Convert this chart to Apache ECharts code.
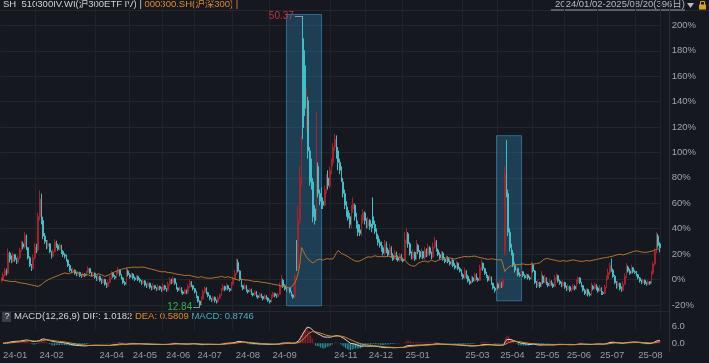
<!DOCTYPE html>
<html><head><meta charset="utf-8">
<script src="https://cdn.jsdelivr.net/npm/echarts@6/dist/echarts.min.js"></script>
<style>html,body{margin:0;padding:0;background:#15181e;}#c{width:709px;height:363px;}</style>
</head><body><div id="c"></div>
<script>
// IV bars: [open, close, high, low]
const ivBars = [
[16.2,16.4,16.7,16.0],[16.4,17.0,17.3,16.2],[17.0,17.5,17.9,16.8],[17.5,17.2,17.8,16.9],[17.2,19.8,20.4,17.1],[19.8,19.0,20.0,18.6],[19.0,18.7,19.5,18.5],[18.7,19.6,19.9,18.6],[19.6,19.0,19.7,18.7],[19.0,18.6,19.2,18.4],
[18.6,19.2,19.5,18.5],[19.2,20.2,20.5,19.0],[20.2,21.0,21.4,20.0],[21.0,20.6,21.3,20.3],[20.6,22.0,22.5,20.4],[22.0,20.5,22.2,20.2],[20.5,19.2,20.6,19.0],[19.2,18.2,19.4,18.0],[18.2,17.8,18.4,17.5],[17.8,19.2,19.6,17.7],
[19.2,20.6,21.1,19.0],[20.6,20.2,21.0,19.8],[20.2,24.5,25.0,20.0],[24.5,26.8,27.9,24.0],[26.8,24.0,27.5,23.5],[24.0,22.0,24.5,21.6],[22.0,21.3,22.4,21.0],[21.3,20.7,21.5,20.3],[20.7,21.0,21.5,20.4],[21.0,20.0,21.1,19.8],
[20.0,19.4,20.1,19.1],[19.4,20.0,20.3,19.3],[20.0,21.2,21.6,19.9],[21.2,20.8,21.4,20.5],[20.8,20.3,21.0,20.1],[20.3,20.8,21.1,20.1],[20.8,20.0,20.9,19.7],[20.0,19.6,20.2,19.3],[19.6,19.4,19.8,19.1],[19.4,18.9,19.6,18.7],
[18.9,18.2,19.0,18.0],[18.2,17.6,18.4,17.4],[17.6,17.4,17.8,17.2],[17.4,17.6,17.9,17.2],[17.6,17.2,17.7,17.0],[17.2,17.0,17.4,16.8],[17.0,17.3,17.5,16.9],[17.3,16.9,17.4,16.7],[16.9,16.8,17.1,16.6],[16.8,17.1,17.3,16.7],
[17.1,16.9,17.2,16.7],[16.9,17.3,17.5,16.8],[17.3,17.8,18.1,17.2],[17.8,17.3,17.9,17.1],[17.3,17.0,17.4,16.8],[17.0,17.2,17.4,16.8],[17.2,16.7,17.3,16.5],[16.7,16.4,16.9,16.2],[16.4,16.8,17.1,16.3],[16.8,16.3,16.9,16.1],
[16.3,16.0,16.5,15.8],[16.0,16.4,16.7,15.9],[16.4,15.8,16.5,15.6],[15.8,15.5,16.0,15.3],[15.5,16.0,16.3,15.4],[16.0,16.6,16.9,15.9],[16.6,17.2,17.5,16.4],[17.2,16.8,17.3,16.6],[16.8,16.6,17.0,16.4],[16.6,17.2,17.5,16.5],
[17.2,17.6,18.0,17.0],[17.6,17.0,17.7,16.8],[17.0,16.6,17.1,16.4],[16.6,16.0,16.7,15.8],[16.0,15.8,16.2,15.6],[15.8,17.5,18.0,15.7],[17.5,17.0,17.7,16.8],[17.0,16.7,17.2,16.5],[16.7,17.1,17.3,16.6],[17.1,16.6,17.2,16.4],
[16.6,16.4,16.8,16.2],[16.4,16.8,17.0,16.3],[16.8,16.4,16.9,16.2],[16.4,16.2,16.6,16.0],[16.2,15.9,16.3,15.7],[15.9,16.2,16.4,15.8],[16.2,15.7,16.3,15.5],[15.7,15.5,15.9,15.3],[15.5,15.9,16.1,15.4],[15.9,15.4,16.0,15.2],
[15.4,15.2,15.6,15.0],[15.2,15.6,15.9,15.1],[15.6,15.3,15.7,15.1],[15.3,15.1,15.4,14.9],[15.1,15.5,15.8,15.0],[15.5,15.2,15.6,15.0],[15.2,15.0,15.4,14.8],[15.0,15.6,15.9,14.9],[15.6,15.2,15.7,15.0],[15.2,15.0,15.3,14.8],
[15.0,15.8,16.1,14.9],[15.8,16.4,16.7,15.6],[16.4,16.0,16.5,15.8],[16.0,16.5,16.8,15.9],[16.5,15.9,16.6,15.7],[15.9,15.3,16.0,15.1],[15.3,15.0,15.4,14.8],[15.0,15.3,15.5,14.9],[15.3,14.8,15.4,14.6],[14.8,14.6,15.0,14.4],
[14.6,15.0,15.2,14.5],[15.0,14.7,15.1,14.5],[14.7,15.5,15.8,14.6],[15.5,16.1,16.4,15.3],[16.1,15.6,16.2,15.4],[15.6,15.2,15.7,15.0],[15.2,14.8,15.3,14.6],[14.8,14.2,14.9,14.0],[14.2,13.6,14.3,13.4],[13.6,13.1,13.7,12.84],
[13.1,13.9,14.2,13.0],[13.9,14.8,15.1,13.8],[14.8,15.3,15.5,14.6],[15.3,14.7,15.4,14.5],[14.7,14.3,14.8,14.1],[14.3,13.9,14.4,13.7],[13.9,13.7,14.0,13.5],[13.7,14.1,14.3,13.6],[14.1,13.7,14.2,13.4],[13.7,13.5,13.8,13.3],
[13.5,14.0,14.2,13.4],[14.0,14.4,14.6,13.9],[14.4,15.0,15.3,14.3],[15.0,15.5,15.8,14.9],[15.5,15.1,15.6,14.9],[15.1,15.6,15.9,15.0],[15.6,15.2,15.7,15.0],[15.2,15.0,15.3,14.8],[15.0,15.8,16.1,14.9],[15.8,16.5,16.8,15.6],
[16.5,17.2,17.6,16.3],[17.2,18.6,19.1,17.0],[18.6,17.5,19.0,17.3],[17.5,16.4,17.6,16.2],[16.4,15.6,16.5,15.4],[15.6,15.2,15.7,15.0],[15.2,15.6,15.9,15.1],[15.6,15.0,15.7,14.8],[15.0,14.8,15.1,14.6],[14.8,15.1,15.3,14.7],
[15.1,14.6,15.2,14.4],[14.6,14.4,14.7,14.2],[14.4,14.8,15.0,14.3],[14.8,14.3,14.9,14.1],[14.3,14.1,14.4,13.9],[14.1,14.5,14.7,14.0],[14.5,14.2,14.6,14.0],[14.2,13.9,14.3,13.7],[13.9,14.3,14.5,13.8],[14.3,14.0,14.4,13.8],
[14.0,13.7,14.1,13.5],[13.7,13.5,13.8,13.3],[13.5,14.2,14.5,13.4],[14.2,14.6,14.8,14.0],[14.6,14.3,14.7,14.1],[14.3,14.2,14.5,14.0],[14.2,14.5,14.7,14.1],[14.5,15.6,16.0,14.4],[15.6,16.3,17.0,15.4],[16.3,15.6,16.5,15.3],
[15.6,15.2,15.8,15.0],[15.2,15.0,15.4,14.8],[15.0,15.3,15.5,14.9],[15.3,14.8,15.4,14.6],[14.8,14.4,14.9,14.2],[14.4,14.1,14.5,13.9],[14.1,16.8,17.2,14.0],[19.8,17.8,21.5,17.5],[17.8,24.0,26.0,17.6],[24.0,29.5,31.0,23.5],
[29.5,33.0,35.0,28.5],[47.5,36.0,50.37,34.5],[44.0,38.5,46.0,37.5],[37.0,40.0,41.0,35.5],[39.5,33.0,40.0,32.0],[33.0,29.0,33.5,28.5],[31.5,28.5,32.0,28.0],[29.0,24.5,29.5,23.8],[25.5,24.0,26.0,23.5],[24.5,29.0,38.0,24.0],
[31.0,27.5,31.5,27.0],[27.5,26.5,28.0,26.0],[27.0,25.8,28.3,25.5],[26.5,26.0,27.0,25.5],[26.0,28.0,28.5,25.8],[28.0,29.5,30.0,27.5],[29.5,28.5,30.5,28.0],[28.5,30.5,31.0,28.2],[30.5,31.5,32.0,30.0],[31.5,33.5,34.0,31.0],
[33.5,34.5,35.2,33.0],[34.5,32.5,35.0,32.0],[33.0,31.5,33.5,30.5],[31.5,30.5,32.0,30.0],[30.5,29.5,31.0,29.0],[29.0,27.5,29.5,27.0],[27.5,26.0,28.0,25.5],[26.0,25.3,26.5,24.5],[25.3,24.3,25.8,24.0],[24.5,23.5,25.0,23.0],
[23.5,25.5,26.0,23.0],[25.5,26.2,27.0,25.0],[26.0,24.5,26.2,24.0],[24.5,23.5,25.0,23.0],[23.5,22.5,24.0,22.0],[22.8,22.3,23.5,22.0],[22.3,24.2,24.8,22.0],[24.0,25.0,25.5,23.6],[25.0,24.0,25.2,23.5],[24.0,23.3,24.3,23.0],
[23.3,24.0,24.5,23.0],[24.0,23.2,24.2,22.8],[23.2,23.0,23.6,22.5],[24.5,23.5,27.0,23.0],[23.5,22.6,24.0,22.3],[22.8,22.0,23.0,21.6],[22.0,21.2,22.3,20.8],[21.2,20.8,21.6,20.5],[21.0,20.3,21.3,20.0],[20.5,19.8,20.8,19.5],
[19.8,21.0,21.5,19.5],[21.0,20.2,21.3,19.8],[20.2,19.6,20.5,19.3],[19.6,20.5,21.0,19.4],[20.5,19.5,20.7,19.2],[19.5,19.0,19.8,18.8],[19.0,19.8,20.2,18.9],[19.8,19.2,20.0,18.9],[19.2,18.9,19.5,18.7],[18.9,19.5,19.8,18.7],
[19.5,19.0,19.7,18.8],[19.0,18.8,19.2,18.6],[18.9,21.5,22.5,18.8],[21.5,22.5,23.0,21.0],[22.3,21.0,22.5,20.5],[21.0,19.8,21.2,19.5],[19.8,19.2,20.0,19.0],[19.2,19.9,20.3,19.0],[19.9,19.0,20.0,18.8],[19.0,20.8,21.5,18.9],
[20.8,20.0,21.0,19.7],[20.0,19.3,20.2,19.0],[19.3,20.0,20.4,19.1],[20.0,19.2,20.1,19.0],[19.2,20.2,20.6,19.0],[20.2,19.6,20.4,19.3],[19.6,20.5,21.0,19.4],[20.5,19.8,20.7,19.5],[19.8,19.3,20.0,19.0],[19.3,20.6,21.2,19.2],
[20.6,21.3,21.9,20.4],[21.3,20.2,21.5,20.0],[20.2,19.6,20.4,19.4],[19.6,19.2,19.9,19.0],[19.2,19.8,20.1,19.1],[19.8,19.0,20.0,18.8],[19.0,18.7,19.3,18.5],[18.7,19.2,19.5,18.5],[19.2,18.7,19.4,18.5],[18.7,18.4,19.0,18.2],
[18.4,18.9,19.2,18.2],[18.9,18.2,19.0,18.0],[18.2,17.9,18.5,17.7],[17.9,18.5,18.8,17.8],[18.5,17.8,18.6,17.6],[17.8,17.5,18.0,17.3],[17.5,17.0,17.7,16.8],[17.0,16.6,17.2,16.4],[16.6,17.5,17.9,16.5],[17.5,16.8,17.6,16.5],
[16.8,16.2,17.0,16.0],[16.2,15.9,16.5,15.7],[15.9,16.6,16.9,15.8],[16.6,16.2,16.8,16.0],[16.2,17.0,17.3,16.1],[17.0,16.5,17.2,16.3],[16.5,16.3,16.7,16.1],[16.3,17.9,18.3,16.2],[17.9,18.5,19.0,17.6],[18.5,17.8,18.6,17.5],
[17.8,17.2,17.9,17.0],[17.2,16.8,17.4,16.6],[16.8,16.3,17.0,16.1],[16.3,16.7,17.0,16.2],[16.7,15.9,16.8,15.7],[15.9,15.3,16.0,15.1],[15.3,15.0,15.5,14.7],[15.0,15.8,16.1,14.9],[15.8,15.3,16.0,15.1],[15.3,15.9,16.4,15.2],
[15.9,15.5,16.1,15.3],[15.5,16.3,16.6,15.4],[19.8,30.0,31.0,19.5],[34.0,27.8,34.4,27.0],[27.5,22.5,28.0,22.0],[22.5,20.5,23.0,20.0],[20.5,19.8,21.0,19.5],[19.8,18.2,20.2,18.0],[18.3,17.6,18.6,17.3],[17.3,17.8,18.0,17.0],
[17.8,17.0,17.9,16.8],[17.0,16.9,17.3,16.7],[16.9,17.4,17.7,16.7],[17.4,16.9,17.5,16.7],[16.9,16.6,17.1,16.5],[16.6,17.0,17.2,16.5],[17.0,16.6,17.1,16.4],[16.6,16.5,16.8,16.3],[16.5,18.3,18.7,16.4],[18.3,17.5,18.5,17.3],
[17.5,16.0,17.6,15.8],[16.0,15.5,16.2,15.3],[15.5,16.0,16.3,15.4],[16.0,15.5,16.1,15.3],[15.5,16.8,17.5,15.4],[16.8,16.0,17.0,15.8],[16.0,16.6,17.0,15.9],[16.6,15.9,16.7,15.7],[15.9,15.6,16.1,15.4],[15.6,16.2,16.5,15.5],
[16.2,15.8,16.3,15.6],[15.8,15.5,16.0,15.3],[15.5,16.6,17.0,15.4],[16.6,16.9,17.2,16.4],[16.9,16.2,17.0,16.0],[16.2,15.9,16.4,15.7],[15.9,15.6,16.1,15.4],[15.6,16.0,16.3,15.5],[16.0,15.4,16.1,15.2],[15.4,15.1,15.6,14.9],
[15.1,15.5,15.8,15.0],[15.5,15.0,15.6,14.8],[15.0,15.1,15.3,14.8],[15.1,15.5,15.8,15.0],[15.5,15.2,15.7,15.0],[15.2,16.0,16.4,15.1],[16.0,16.6,16.8,15.8],[16.6,16.0,16.7,15.8],[16.0,15.6,16.1,15.4],[15.6,15.0,15.7,14.8],
[15.0,14.6,15.2,14.4],[14.6,15.1,15.3,14.3],[15.1,14.5,15.2,14.2],[14.5,14.4,14.8,14.2],[14.4,15.5,16.0,14.3],[15.5,15.2,15.7,15.0],[15.2,15.7,16.0,15.1],[15.7,15.3,15.8,15.0],[15.3,14.9,15.5,14.7],[14.9,15.3,15.7,14.8],
[15.3,14.7,15.4,14.4],[14.7,14.6,14.9,14.4],[14.6,15.4,15.7,14.5],[15.4,16.5,16.9,15.3],[16.5,17.3,17.8,16.3],[17.3,18.2,18.6,17.0],[18.4,17.6,19.1,17.4],[17.6,16.8,17.8,16.6],[16.8,16.0,17.0,15.8],[16.0,15.5,16.2,15.2],
[15.5,15.9,16.2,15.3],[15.9,15.2,16.0,15.0],[15.2,15.0,15.5,14.8],[15.0,15.8,16.2,14.9],[15.8,16.8,17.2,15.7],[16.8,18.0,18.5,16.6],[18.0,17.5,18.2,17.3],[17.5,17.2,17.8,17.0],[17.2,17.9,18.3,17.1],[17.9,17.4,18.0,17.2],
[17.4,17.3,17.6,17.1],[17.3,17.0,17.5,16.8],[17.0,16.6,17.1,16.4],[16.6,16.2,16.7,16.0],[16.2,16.0,16.4,15.8],[16.0,16.3,16.5,15.9],[16.3,15.9,16.4,15.7],[15.9,15.8,16.1,15.6],[15.8,16.1,16.3,15.7],[16.1,15.9,16.2,15.7],
[15.9,17.2,17.5,15.8],[17.2,18.4,18.7,17.0],[18.4,20.0,20.4,18.2],[20.0,22.0,22.5,19.8],[22.0,20.8,22.3,20.5],[21.0,20.5,21.2,19.9]
];

// CSI 300 closes
const csi300 = [
3386,3370,3360,3350,3345,3340,3330,3325,3335,3320,3310,
3300,3290,3305,3280,3270,3260,3250,
3240,3230,3220,3215,3200,3185,
3250,3300,3330,3355,3380,3400,3420,3440,3455,3470,3490,3510,
3530,3545,3560,3550,3540,3555,
3570,3590,3600,3580,3560,3545,3520,3500,3515,3530,3510,
3490,3470,3480,3500,3520,3540,3530,3510,3490,3470,3480,3500,3530,3550,3570,
3590,3610,3630,3640,3660,3670,3680,3690,3700,3705,
3710,3700,3715,3720,3710,3715,3720,3725,3710,3690,3680,3670,3660,3650,3640,3620,
3610,3600,3590,3600,3595,3580,3570,3560,3565,3550,
3540,3530,3520,3525,3510,3500,3490,3495,3500,3490,3480,3470,
3460,3450,3440,3450,3460,3440,3430,3445,3420,3410,3420,3430,
3440,3450,3445,3460,3470,3455,3440,3450,3460,3440,3430,3420,
3400,3390,3370,3380,3390,3385,3375,3380,3370,3360,
3350,3340,3330,3345,3335,3320,3310,3300,3305,3295,3285,3280,
3270,3260,3250,3240,3235,3220,3210,3200,3190,3180,3165,3170,3180,3175,
3300,3400,3560,3800,4240,4150,4060,3980,3930,3880,3840,3825,
3870,3900,3920,3930,3910,3900,3920,3940,3950,3930,3920,
3940,4020,4100,4160,4120,4080,4050,4040,4010,3990,3960,
3930,3900,3880,3860,3870,3890,3900,3920,
3950,3970,3990,4000,3980,4010,4020,4000,3990,4010,4000,3990,
3990,4000,4010,3990,3980,3995,4000,3980,3985,3990,3960,3960,
3900,3850,3800,3780,3750,3730,3740,3780,
3820,3840,3860,3870,3880,3860,3850,3870,3900,3880,3860,3880,3900,3920,3930,3940,3950,3960,3970,3960,3950,3940,3930,3950,3960,3970,3980,
3990,4000,4010,3990,3980,4000,4020,4010,3990,3980,3970,
3960,3950,3940,3930,3920,3930,3940,3930,3920,
3920,3910,3925,3915,3900,
3600,
3660,3700,3740,3750,3760,3770,3780,3785,3790,
3790,3800,3790,3780,3785,3790,3800,3795,3800,3810,3820,3830,
3870,3910,3940,3950,
3940,3930,3920,3910,3900,3890,3880,3870,3880,3890,3880,3870,3880,3890,3900,3910,3900,3890,3880,3870,3860,3870,3880,3890,
3880,3880,3890,3900,3910,3920,
3930,3940,3950,3960,3960,3970,3980,3990,3995,
4010,4030,4040,4050,4060,4050,4040,4060,4070,
4080,4100,4120,4130,4140,4150,4140,4130,
4120,4110,4100,4110,4120,4130,4140,4150,4170,4190,4200,4210
];

// trading calendar
const closedDays = ['2024-01-01','2024-02-09','2024-02-12','2024-02-13','2024-02-14','2024-02-15','2024-02-16','2024-04-04','2024-04-05','2024-05-01','2024-05-02','2024-05-03','2024-06-10','2024-09-16','2024-09-17','2024-10-01','2024-10-02','2024-10-03','2024-10-04','2024-10-07','2025-01-01','2025-01-28','2025-01-29','2025-01-30','2025-01-31','2025-02-03','2025-02-04','2025-04-04','2025-05-01','2025-05-02','2025-05-05','2025-06-02'];
const labelMonths = ['2024-01','2024-02','2024-04','2024-05','2024-06','2024-07','2024-08','2024-09','2024-11','2024-12','2025-01','2025-03','2025-04','2025-05','2025-06','2025-07','2025-08'];
const yTicks = [-20,0,20,40,60,80,100,120,140,160,180,200];

const dates = [];
(function(){
  const d = new Date(Date.UTC(2024,0,2)), end = Date.UTC(2025,7,20);
  while (d.getTime() <= end) {
    const wd = d.getUTCDay(), s = d.toISOString().slice(0,10);
    if (wd !== 0 && wd !== 6 && closedDays.indexOf(s) < 0) dates.push(s);
    d.setUTCDate(d.getUTCDate()+1);
  }
})();
const labelIdx = new Set();
dates.forEach((s,i)=>{ const m=s.slice(0,7); if ((i===0 || dates[i-1].slice(0,7)!==m) && labelMonths.indexOf(m)>=0) labelIdx.add(i); });

const ivBase = ivBars[0][1], csiBase = csi300[0];
const pct = v => (v/ivBase-1)*100;
const candle = ivBars.map(b => [pct(b[0]), pct(b[1]), pct(b[3]), pct(b[2])]);
const csiPct = csi300.map(v => (v/csiBase-1)*100);

// MACD(12,26,9) of IV close
const closes = ivBars.map(b=>b[1]);
const dif=[], dea=[], hist=[];
let e12=closes[0], e26=closes[0], d9=0;
closes.forEach((c,i)=>{
  if(i>0){ e12 = e12*11/13 + c*2/13; e26 = e26*25/27 + c*2/27; }
  const df = e12-e26; d9 = i===0?0:(d9*8/10 + df*2/10);
  dif.push(df); dea.push(d9); hist.push(2*(df-d9));
});

let maxI=0, minI=0;
ivBars.forEach((b,i)=>{ if(b[2]>ivBars[maxI][2]) maxI=i; if(b[3]<ivBars[minI][3]) minI=i; });
const maxP = pct(ivBars[maxI][2]), minP = pct(ivBars[minI][3]);

const FONT = 'Liberation Sans, Arial, Noto Sans CJK SC, sans-serif';
const gridL = 0.7, gridW = 660;
const chart = echarts.init(document.getElementById('c'));
chart.setOption({
  animation:false,
  backgroundColor:'#15181e',
  textStyle:{fontFamily:FONT},
  grid:[
    {left:gridL, width:gridW, top:-1.2, height:331.5},
    {left:gridL, width:gridW, top:317.35, height:34.6}
  ],
  xAxis:[
    {type:'category', gridIndex:0, data:dates, boundaryGap:true,
     axisLine:{show:false}, axisTick:{show:false}, axisLabel:{show:false},
     splitLine:{show:true, interval:(i)=>labelIdx.has(i+1), lineStyle:{color:'#1f232a', width:1}}},
    {type:'category', gridIndex:1, data:dates, boundaryGap:true,
     axisLine:{show:false}, axisTick:{show:false},
     axisLabel:{show:true, interval:(i)=>labelIdx.has(i), formatter:(v)=>v.slice(2,7), align:'left', margin:-1,
       color:'#979ca5', fontSize:9.5, fontFamily:FONT},
     splitLine:{show:false}}
  ],
  yAxis:[
    {type:'value', gridIndex:0, position:'right', min:-40, max:220, interval:20, offset:9,
     axisLine:{show:true, lineStyle:{color:'#2a2e35'}}, axisTick:{show:false},
     axisLabel:{margin:2, color:'#a0a5ad', fontSize:9.5, fontFamily:FONT,
       formatter:(v)=> yTicks.indexOf(v)>=0 ? v+'%' : ''},
     splitLine:{show:true, showMinLine:false, showMaxLine:false, lineStyle:{color:'#22262d'}}},
    {type:'value', gridIndex:1, position:'right', min:-3, max:9, interval:3, offset:9,
     axisLine:{show:true, lineStyle:{color:'#2a2e35'}}, axisTick:{show:false},
     axisLabel:{margin:2, color:'#a0a5ad', fontSize:9.5, fontFamily:FONT,
       formatter:(v)=> (v===0||v===6) ? v.toFixed(1) : ''},
     splitLine:{show:false}}
  ],
  series:[
    {type:'candlestick', xAxisIndex:0, yAxisIndex:0, data:candle, barWidth:1.4, z:2,
     itemStyle:{color:'#a3232c', color0:'#3ec0c6', borderColor:'#a3232c', borderColor0:'#3ec0c6', borderWidth:1},
     markLine:{silent:true, symbol:['none','none'], animation:false,
       lineStyle:{color:'#8d929b', width:1, type:'solid'},
       data:[
         [{coord:[dates[maxI-5], maxP], label:{show:true, position:'start', formatter:ivBars[maxI][2].toFixed(2), color:'#c8303a', fontSize:10, distance:1}},
          {coord:[dates[maxI], maxP]}],
         [{coord:[dates[minI-4], minP], label:{show:true, position:'start', formatter:ivBars[minI][3].toFixed(2), color:'#34b04e', fontSize:10, distance:1}},
          {coord:[dates[minI], minP]}]
       ]}},
    {type:'line', xAxisIndex:0, yAxisIndex:0, data:csiPct, showSymbol:false, z:3,
     lineStyle:{color:'#b8722c', width:1}},
    {type:'line', xAxisIndex:0, yAxisIndex:0, data:[], z:5,
     markArea:{silent:true, itemStyle:{color:'rgba(45,140,190,0.33)', borderColor:'rgba(70,160,210,0.55)', borderWidth:1},
       data:[
         [{coord:[dates[171], 208.6]},{coord:[dates[192], -20.7]}],
         [{coord:[dates[297], 113.2]},{coord:[dates[312], -16.8]}]
       ]}},
    {type:'bar', xAxisIndex:1, yAxisIndex:1, data:hist, barWidth:1, z:2,
     itemStyle:{color:(p)=> p.value>=0 ? '#9c2228' : '#2e9aa2'}},
    {type:'line', xAxisIndex:1, yAxisIndex:1, data:dif, showSymbol:false, z:3,
     lineStyle:{color:'#d6d6d6', width:1}},
    {type:'line', xAxisIndex:1, yAxisIndex:1, data:dea, showSymbol:false, z:3,
     lineStyle:{color:'#d08a32', width:1}}
  ],
  graphic:[
    {type:'line', shape:{x1:0,y1:10.5,x2:709,y2:10.5}, style:{stroke:'#23272e', lineWidth:1}, silent:true},
    {type:'line', shape:{x1:0,y1:311.5,x2:670,y2:311.5}, style:{stroke:'#23272e', lineWidth:1}, silent:true},
    {type:'text', left:3, top:0, style:{
      text:'{a|SH  510300IV.WI(沪300ETF IV) | }{b|000300.SH(沪深300) |}',
      rich:{a:{fill:'#cfd2d7', fontSize:9.5, fontFamily:FONT}, b:{fill:'#e08b2c', fontSize:9.5, fontFamily:FONT}}}},
    {type:'text', right:24, top:0, style:{text:'2024/01/02-2025/08/20(396日)', fill:'#b7bbc2', fontSize:9.5, fontFamily:FONT}},
    {type:'line', shape:{x1:551,y1:10,x2:685,y2:10}, style:{stroke:'#b7bbc2', lineWidth:0.8}, silent:true},
    {type:'polygon', shape:{points:[[687,3],[694,3],[690.5,8]]}, style:{fill:'#b7bbc2'}},
    {type:'rect', shape:{x:699,y:4.5,width:7,height:5}, style:{fill:'#d9a022'}},
    {type:'rect', shape:{x:700.5,y:1.5,width:4,height:4}, style:{fill:'none', stroke:'#d9a022', lineWidth:1}},
    {type:'rect', shape:{x:2,y:312,width:9,height:10}, style:{fill:'#3a3e46'}},
    {type:'text', left:4.5, top:312.5, style:{text:'?', fill:'#d8d8d8', fontSize:9, fontFamily:FONT}},
    {type:'text', left:14, top:312, style:{
      text:'{a|MACD(12,26,9) DIF: 1.0182 }{b|DEA: 0.5809 }{c|MACD: 0.8746}',
      rich:{a:{fill:'#d4d6da', fontSize:9.5, fontFamily:FONT}, b:{fill:'#e08b2c', fontSize:9.5, fontFamily:FONT}, c:{fill:'#3fb6c4', fontSize:9.5, fontFamily:FONT}}}}
  ]
});
</script></body></html>
